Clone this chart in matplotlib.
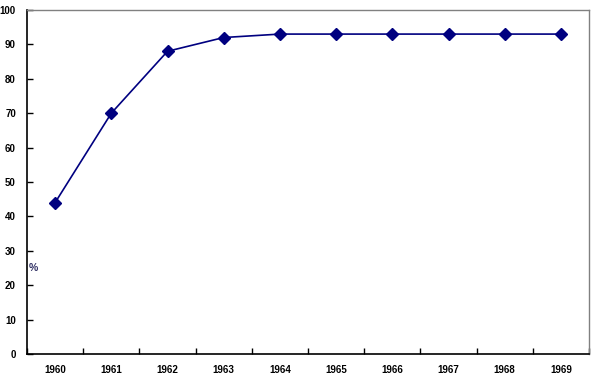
import matplotlib
matplotlib.use("Agg")
import matplotlib.pyplot as plt
import numpy as np

years = ["1960", "1961", "1962", "1963", "1964", "1965", "1966", "1967", "1968", "1969"]
values = [44, 70, 88, 92, 93, 93, 93, 93, 93, 93]

plt.rcParams['font.family'] = ['Liberation Sans', 'DejaVu Sans']
fig = plt.figure(figsize=(5.95, 3.78), dpi=100)
ax = fig.add_axes([27/595, 1-354/378, 562/595, 344/378])
x = np.arange(len(years))
ax.plot(x, values, color="#000080", lw=1.2, marker="D", markersize=6, markerfacecolor="#000080", markeredgecolor="#000080")
ax.set_xlim(-0.5, len(years)-0.5)
ax.set_ylim(0, 100)
ax.set_yticks(range(0, 101, 10))
ax.set_yticklabels([str(v) for v in range(0, 101, 10)], fontsize=7, fontweight='bold')
ax.set_xticks(x)
ax.set_xticklabels(years, fontsize=7, fontweight='bold')
ax.set_xticks(np.arange(-0.5, len(years)), minor=True)
ax.tick_params(axis='x', which='major', length=0, pad=8)
ax.tick_params(axis='x', which='minor', direction='in', length=4, width=1)
ax.tick_params(axis='y', direction='in', length=4, width=1, pad=8)
for s in ['left', 'bottom']:
    ax.spines[s].set_color('black')
    ax.spines[s].set_linewidth(1.2)
for s in ['top', 'right']:
    ax.spines[s].set_color('#808080')
    ax.spines[s].set_linewidth(1)
ax.text(-0.47, 25, "%", fontsize=7.5, fontweight='bold', color="#333366", va='center', ha='left')
fig.savefig("out.png", dpi=100)
